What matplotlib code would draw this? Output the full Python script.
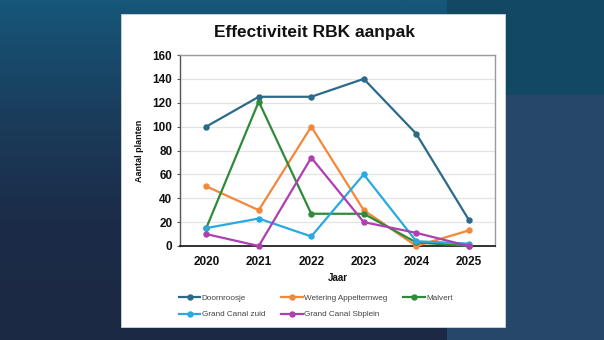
import numpy as np
import matplotlib
matplotlib.use("Agg")
import matplotlib.pyplot as plt
from matplotlib.patches import Rectangle
from matplotlib.colors import LinearSegmentedColormap

years = ["2020", "2021", "2022", "2023", "2024", "2025"]
doornroosje = [100, 125, 125, 140, 94, 22]
wetering = [50, 30, 100, 30, 0, 13]
malvert = [15, 121, 27, 27, 3, 0]
gc_zuid = [15, 23, 8, 60, 4, 2]
gc_sbplein = [10, 0, 74, 20, 11, 0]

series = [
    ("Doornroosje", doornroosje, "#2b6a8a"),
    ("Wetering Appelternweg", wetering, "#f4873a"),
    ("Malvert", malvert, "#2f8a3a"),
    ("Grand Canal zuid", gc_zuid, "#2aa8e0"),
    ("Grand Canal Sbplein", gc_sbplein, "#ad3fb0"),
]

plt.rcParams['font.family'] = ['Liberation Sans', 'DejaVu Sans']

W, H = 604, 340
fig = plt.figure(figsize=(W / 100, H / 100), dpi=100)

# background
bg = fig.add_axes([0, 0, 1, 1], zorder=-10)
bg.set_axis_off()
cmap_left = LinearSegmentedColormap.from_list("l", ["#16577a", "#1a3d5c", "#1b2b47", "#1c2944"])
grad = np.linspace(0, 1, 200)[:, None] * np.ones((1, 10))
bg.imshow(grad, cmap=cmap_left, aspect='auto', extent=[0, 1, 0, 1], origin='upper')
bg.add_patch(Rectangle((447 / W, 0), 1 - 447 / W, 1 - 95 / H, transform=bg.transAxes,
                       facecolor="#26466a", edgecolor='none'))
bg.add_patch(Rectangle((447 / W, 1 - 95 / H), 1 - 447 / W, 95 / H, transform=bg.transAxes,
                       facecolor="#134862", edgecolor='none'))
bg.set_xlim(0, 1)
bg.set_ylim(0, 1)

# white panel
fig.patches.append(Rectangle((121 / W, 1 - 327 / H), (505 - 121) / W, (327 - 13.5) / H,
                             transform=fig.transFigure, facecolor='white', edgecolor='#cfd6dc',
                             linewidth=0.6, zorder=-5))

ax = fig.add_axes([180 / W, 1 - 246 / H, (495 - 180) / W, (246 - 55) / H])
x = np.arange(len(years))
handles = {}
for name, vals, col in series:
    h, = ax.plot(x, vals, color=col, lw=1.6, marker='o', markersize=3.6, label=name, zorder=3,
                 clip_on=False)
    handles[name] = h

ax.set_xlim(-0.5, len(years) - 0.5)
ax.set_ylim(0, 160)
ax.set_yticks(range(0, 161, 20))
ax.set_xticks(x)
ax.set_xticklabels(years)
ax.grid(axis='y', color='#e3e3e3', lw=0.9, zorder=0)
ax.set_axisbelow(True)
for s in ['top', 'right']:
    ax.spines[s].set_color('#9a9a9a')
    ax.spines[s].set_linewidth(1.0)
ax.spines['left'].set_color('#555555')
ax.spines['left'].set_linewidth(1.0)
ax.spines['bottom'].set_color('#222222')
ax.spines['bottom'].set_linewidth(1.3)
ax.tick_params(axis='y', length=2.5, width=0.8, color='#555555', pad=3)
ax.tick_params(axis='x', length=0, pad=7)
for lab in ax.get_yticklabels() + ax.get_xticklabels():
    lab.set_fontweight('bold')
    lab.set_fontsize(8.5)
    lab.set_color('#111111')

ax.set_ylabel("Aantal planten", fontsize=6.5, fontweight='bold', labelpad=6, color='#111111')
ax.set_xlabel("Jaar", fontsize=7, fontweight='bold', labelpad=4, color='#111111')

fig.text(314 / W, 1 - 32 / H, "Effectiviteit RBK aanpak", ha='center', va='center',
         fontsize=12.5, fontweight='bold', color='#111111')

order = ["Doornroosje", "Grand Canal zuid", "Wetering Appelternweg", "Grand Canal Sbplein", "Malvert"]
leg = fig.legend([handles[n] for n in order], order, ncol=3, loc='upper left',
                 bbox_to_anchor=(179 / W, 1 - 294 / H), frameon=False, fontsize=5.9,
                 handlelength=2.6, handletextpad=0.15, columnspacing=2.0, labelspacing=1.1,
                 borderaxespad=0, borderpad=0)
for t in leg.get_texts():
    t.set_color('#444444')

fig.savefig("out.png", dpi=100)
